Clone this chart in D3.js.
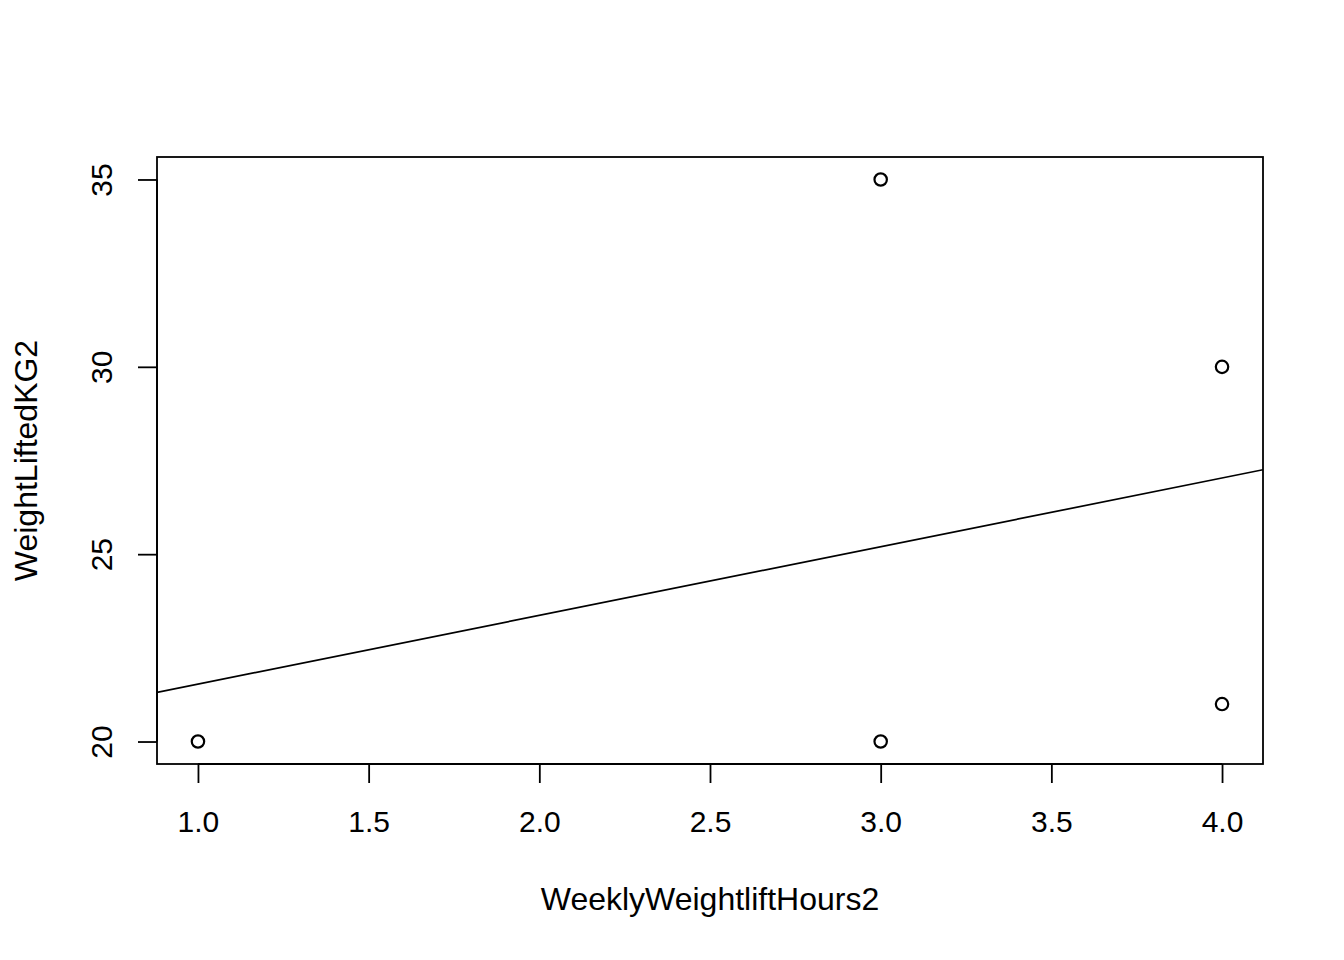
<!DOCTYPE html>
<html><head><meta charset="utf-8">
<script src="https://cdn.jsdelivr.net/npm/d3@7"></script>
<style>body{margin:0;background:#fff}svg{display:block}text{font-family:"Liberation Sans",Arial,sans-serif;fill:#000}</style>
</head><body><div id="chart"></div>
<script>
const hours = [1, 3, 3, 4, 4];
const weights = [20, 35, 20, 30, 21];
const xTicks = [1.0, 1.5, 2.0, 2.5, 3.0, 3.5, 4.0];
const yTicks = [20, 25, 30, 35];
const fitIntercept = 19.7;
const fitSlope = 1.8333;

const W = 1344, H = 960;
const L = 157, R = 1263, T = 157, B = 764;
const svg = d3.select("#chart").append("svg").attr("width", W).attr("height", H);

const xPad = (d3.max(hours) - d3.min(hours)) * 0.04;
const yPad = (d3.max(weights) - d3.min(weights)) * 0.04;
const x = d3.scaleLinear().domain([d3.min(hours) - xPad, d3.max(hours) + xPad]).range([L, R]);
const y = d3.scaleLinear().domain([d3.min(weights) - yPad, d3.max(weights) + yPad]).range([B, T]);

const fs = 30, tfs = 32;
// x axis
const xa = svg.append("g").attr("transform", `translate(0,${B})`)
  .call(d3.axisBottom(x).tickValues(xTicks).tickSize(19).tickSizeOuter(0).tickFormat(d3.format(".1f")));
xa.select(".domain").attr("d", `M${x(xTicks[0])},0H${x(xTicks[xTicks.length-1])}`);
xa.selectAll("line,.domain").attr("stroke", "#000").attr("stroke-width", 1.8);
xa.selectAll("text").attr("font-size", fs).attr("y", 0).attr("dy", 0)
  .attr("transform", "translate(0,68)").style("font-family", '"Liberation Sans",Arial,sans-serif').attr("fill", "#000");

// y axis
const ya = svg.append("g").attr("transform", `translate(${L},0)`)
  .call(d3.axisLeft(y).tickValues(yTicks).tickSize(19).tickSizeOuter(0));
ya.select(".domain").attr("d", `M0,${y(yTicks[0])}V${y(yTicks[yTicks.length-1])}`);
ya.selectAll("line,.domain").attr("stroke", "#000").attr("stroke-width", 1.8);
ya.selectAll("text").attr("font-size", fs).attr("x", 0).attr("dy", 0).attr("y", 0)
  .attr("text-anchor", "middle")
  .attr("transform", "translate(-45,0) rotate(-90)")
  .style("font-family", '"Liberation Sans",Arial,sans-serif').attr("fill", "#000");

// box
svg.append("rect").attr("x", L).attr("y", T).attr("width", R - L).attr("height", B - T)
  .attr("fill", "none").attr("stroke", "#000").attr("stroke-width", 1.8);

// regression line
svg.append("clipPath").attr("id", "c").append("rect")
  .attr("x", L).attr("y", T).attr("width", R - L).attr("height", B - T);
const xd = x.domain();
svg.append("line").attr("clip-path", "url(#c)")
  .attr("x1", x(xd[0])).attr("y1", y(fitIntercept + fitSlope * xd[0]))
  .attr("x2", x(xd[1])).attr("y2", y(fitIntercept + fitSlope * xd[1]))
  .attr("stroke", "#000").attr("stroke-width", 1.7);

// points
svg.selectAll("circle.pt").data(hours.map((h, i) => [h, weights[i]])).enter().append("circle")
  .attr("class", "pt").attr("cx", d => x(d[0])).attr("cy", d => y(d[1])).attr("r", 6.2)
  .attr("fill", "none").attr("stroke", "#000").attr("stroke-width", 2.2);

// titles
svg.append("text").attr("x", (L + R) / 2).attr("y", 910).attr("text-anchor", "middle")
  .attr("font-size", tfs).text("WeeklyWeightliftHours2");
svg.append("text").attr("transform", `translate(37,${(T + B) / 2}) rotate(-90)`).attr("text-anchor", "middle")
  .attr("font-size", tfs).text("WeightLiftedKG2");
</script></body></html>
